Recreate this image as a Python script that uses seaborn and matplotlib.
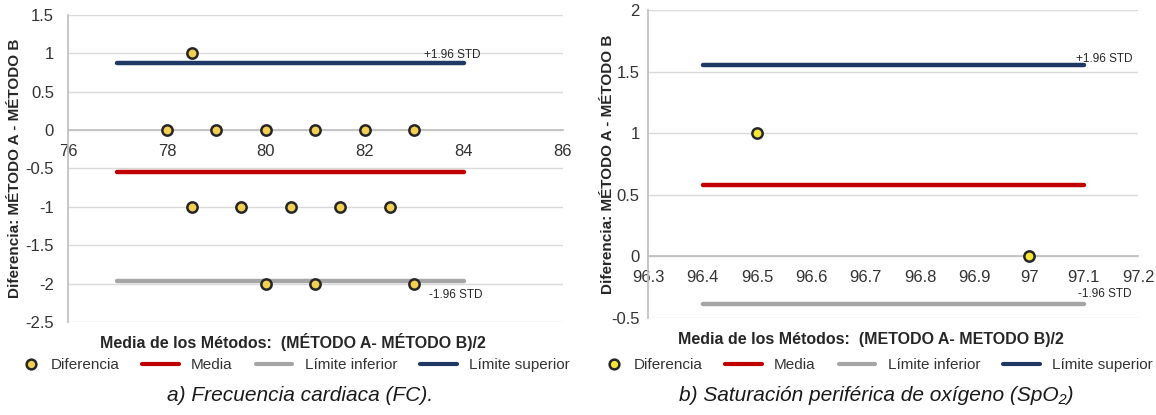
import numpy as np
import matplotlib
matplotlib.use("Agg")
import matplotlib.pyplot as plt
import seaborn as sns
from matplotlib.lines import Line2D
from matplotlib.legend_handler import HandlerLine2D

# Panel a) Frecuencia cardiaca
fc_media = [78.5, 78, 79, 80, 81, 82, 83, 78.5, 79.5, 80.5, 81.5, 82.5, 80, 81, 83]
fc_dif = [1, 0, 0, 0, 0, 0, 0, -1, -1, -1, -1, -1, -2, -2, -2]
fc_line_x = [77, 84]
fc_mean = -0.55
fc_upper = 0.87
fc_lower = -1.97

# Panel b) SpO2
spo2_media = [96.5, 97]
spo2_dif = [1, 0]
spo2_line_x = [96.4, 97.1]
spo2_mean = 0.58
spo2_upper = 1.55
spo2_lower = -0.39

sns.set_theme(style="white")
plt.rcParams["font.family"] = ["Liberation Sans", "DejaVu Sans"]

RED = "#C00000"
GRAY = "#A6A6A6"
BLUE = "#1F3864"
GRID = "#D9D9D9"
TXT = "#333333"


class MarkerNearText(HandlerLine2D):
    # put the legend marker close to its label, as Excel does
    def create_artists(self, legend, orig_handle, xdescent, ydescent, width,
                       height, fontsize, trans):
        arts = super().create_artists(legend, orig_handle, xdescent, ydescent,
                                      width, height, fontsize, trans)
        for a in arts:
            a.set_xdata(np.full(len(a.get_xdata()), width - xdescent - 5))
        return arts


fig = plt.figure(figsize=(11.56, 4.15), dpi=100)
ax1 = fig.add_axes([0.0588, 0.224, 0.428, 0.740])
ax2 = fig.add_axes([0.5606, 0.234, 0.424, 0.742])


def draw(ax, xs, ys, lx, mean, upper, lower, fill, xlim, ylim, xticks, yticks,
         xlabel, up_txt, lo_txt, ylab_x, ypad, xlab_y, leg_xy):
    for val, col in [(lower, GRAY), (mean, RED), (upper, BLUE)]:
        sns.lineplot(x=lx, y=[val, val], ax=ax, color=col, lw=3.2, zorder=3)
    sns.scatterplot(x=xs, y=ys, ax=ax, s=55, color=fill, edgecolor="#262626",
                    linewidth=1.8, zorder=4)
    ax.set_xlim(*xlim)
    ax.set_ylim(*ylim)
    ax.set_xticks(xticks)
    ax.set_yticks(yticks)
    ax.set_xticklabels([f"{t:g}" for t in xticks])
    ax.set_yticklabels([f"{t:g}" for t in yticks])
    ax.yaxis.grid(True, color=GRID, lw=1)
    ax.set_axisbelow(True)
    for s in ["top", "right"]:
        ax.spines[s].set_visible(False)
    ax.spines["bottom"].set_position(("data", 0))
    ax.spines["bottom"].set_color("#BFBFBF")
    ax.spines["left"].set_color("#BFBFBF")
    ax.tick_params(axis="x", length=4, color="#BFBFBF", direction="out",
                   labelsize=12, labelcolor=TXT, pad=6)
    ax.tick_params(axis="y", length=0, labelsize=12, labelcolor=TXT, pad=ypad)
    ax.set_ylabel("Diferencia: MÉTODO A - MÉTODO B", fontsize=11,
                  fontweight="bold", color="#262626")
    ax.yaxis.set_label_coords(ylab_x, 0.5)
    ax.set_xlabel(xlabel, fontsize=11.5, fontweight="bold", color="#262626")
    ax.xaxis.set_label_coords(0.455, xlab_y)
    ax.text(*up_txt, "+1.96 STD", fontsize=8.5, color="#262626", va="center", ha="left")
    ax.text(*lo_txt, "-1.96 STD", fontsize=8.5, color="#262626", va="center", ha="left")
    dot = Line2D([], [], ls="none", marker="o", ms=7, mfc=fill, mec="#262626", mew=1.8)
    handles = [
        dot,
        Line2D([], [], color=RED, lw=3),
        Line2D([], [], color=GRAY, lw=3),
        Line2D([], [], color=BLUE, lw=3),
    ]
    labels = ["Diferencia", "Media", "Límite inferior", "Límite superior"]
    ax.legend(handles, labels, ncol=4, frameon=False, fontsize=11,
              loc="center", bbox_to_anchor=leg_xy, handlelength=2.4,
              columnspacing=1.5, handletextpad=0.8, labelcolor=TXT,
              handler_map={dot: MarkerNearText()})


draw(ax1, fc_media, fc_dif, fc_line_x, fc_mean, fc_upper, fc_lower, "#F2D054",
     (76, 86), (-2.5, 1.5), [76, 78, 80, 82, 84, 86],
     [-2.5, -2, -1.5, -1, -0.5, 0, 0.5, 1, 1.5],
     "Media de los Métodos:  (MÉTODO A- MÉTODO B)/2",
     (83.2, 0.98), (83.3, -2.15), -0.093, 10, -0.035, (0.44, -0.14))

draw(ax2, spo2_media, spo2_dif, spo2_line_x, spo2_mean, spo2_upper, spo2_lower,
     "#F5E63A", (96.3, 97.2), (-0.5, 2.0),
     [96.3, 96.4, 96.5, 96.6, 96.7, 96.8, 96.9, 97.0, 97.1, 97.2],
     [-0.5, 0, 0.5, 1, 1.5, 2],
     "Media de los Métodos:  (METODO A- METODO B)/2",
     (97.085, 1.60), (97.09, -0.305), -0.067, 6, -0.045, (0.45, -0.153))

fig.text(300 / 1156, 1 - 395 / 415, "a) Frecuencia cardiaca (FC).",
         fontsize=15, style="italic", ha="center", va="center", color="#1a1a1a")
fig.text(876 / 1156, 1 - 395 / 415, "b) Saturación periférica de oxígeno (SpO₂)",
         fontsize=15, style="italic", ha="center", va="center", color="#1a1a1a")

fig.savefig("out.png", dpi=100, facecolor="white")
